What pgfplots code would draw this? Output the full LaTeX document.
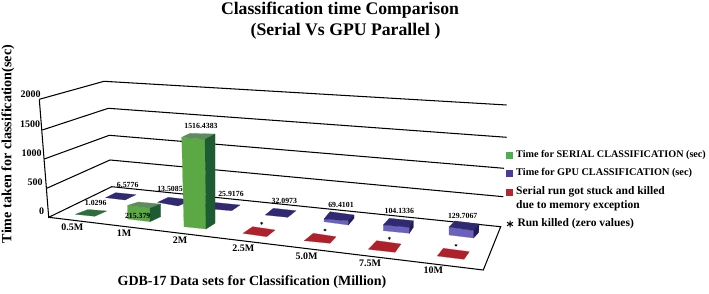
\documentclass[border=0pt]{standalone}
\usepackage{fontspec}
\setmainfont{Liberation Serif}
\usepackage{pgfplots}
\pgfplotsset{compat=1.18}
\definecolor{grid}{HTML}{2A2780}
\definecolor{gfront}{HTML}{5BA845}
\definecolor{gtop}{HTML}{5E8C5E}
\definecolor{gside}{HTML}{1F5B32}
\definecolor{gflat}{HTML}{2F6E3B}
\definecolor{bfront}{HTML}{6A62BC}
\definecolor{btop}{HTML}{2F2A72}
\definecolor{bside}{HTML}{1E1B58}
\definecolor{rflat}{HTML}{B0202B}
\definecolor{lgreen}{HTML}{4CAF50}
\definecolor{lblue}{HTML}{4B3A9C}
\definecolor{lred}{HTML}{B5272F}
\newcommand{\poly}[2]{\addplot[fill=#1,draw=#1,line width=0.2pt,forget plot] coordinates {#2} --cycle;}
\newcommand{\gline}[1]{\addplot[grid,line width=1.05pt,forget plot] coordinates {#1};}
\newcommand{\fs}[1]{\fontsize{#1}{#1}\selectfont\bfseries}
\begin{document}
\begin{tikzpicture}
\begin{axis}[at={(0,0)},anchor=south west,width=709pt,height=294pt,scale only axis,
  xmin=0,xmax=709,ymin=0,ymax=294,y dir=reverse,hide axis,clip=false,enlargelimits=false]
\path (axis cs:0,0) rectangle (axis cs:709,294);
% wall and floor lines
\gline{(39.3,99.3)(104,81.3)(506.7,105)}
\gline{(42.3,130)(108.3,108.3)(506.7,137.3)}
\gline{(44.3,159)(109.3,135.3)(504,168.3)}
\gline{(46.7,188.3)(110,160)(503.3,196.7)}
\gline{(39.3,99.3)(48.7,217.3)(111.7,186.7)(500.7,226.7)(483.3,270)(48.7,217.3)}
% GPU bars, low row
\poly{btop}{(105.7,197.7)(115.7,192.7)(136,194.7)(125,200)}
\poly{btop}{(157.7,202.3)(168.3,197.3)(192,200)(178,206)}
\poly{btop}{(200,208)(210,202)(240,205)(231.7,210.7)}
% serial 0.5M
\poly{gflat}{(75.3,214.3)(88,209.5)(106.7,211)(94.7,216.3)}
% serial 1M
\poly{gfront}{(127.7,205.3)(150,208.3)(150,221.7)(127.7,219)}
\poly{gtop}{(127.7,205.3)(138.3,202)(160.7,204)(150,208.3)}
\poly{gside}{(150,208.3)(160.7,204)(160.7,216.7)(150,221.7)}
% serial 2M
\poly{gfront}{(181.7,137.3)(205,139.3)(206,229)(184,226.7)}
\poly{gtop}{(181.7,137.3)(190,133.3)(215,134)(205,139.3)}
\poly{gside}{(205,139.3)(215,134)(215,223.3)(206,229)}
% GPU remaining
\poly{btop}{(265.3,215)(273.3,208.3)(296,210.7)(287.7,217.3)}
\poly{bfront}{(324,219)(348.3,220.7)(348.3,225)(324,221.7)}
\poly{btop}{(324,219)(330,211.7)(354,215)(348.3,220.7)}
\poly{bside}{(348.3,220.7)(354,215)(354,218.3)(348.3,225)}
\poly{bfront}{(383.3,225)(409.3,227.3)(409.3,233.3)(383.3,230.7)}
\poly{btop}{(383.3,225)(389.3,218.3)(413.3,220.7)(409.3,227.3)}
\poly{bside}{(409.3,227.3)(413.3,220.7)(413.3,227.3)(409.3,233.3)}
\poly{bfront}{(449,227)(473.5,230.5)(473.5,238)(449,235)}
\poly{btop}{(449,227)(455,221)(479,224)(473.5,230.5)}
\poly{bside}{(473.5,230.5)(479,224)(478.7,232.5)(473.5,238)}
% killed runs
\poly{rflat}{(243,233.3)(252.7,226.7)(275,230)(266.7,236.7)}
\poly{rflat}{(304.3,240.7)(313.3,233.3)(336,236.7)(330,243.3)}
\poly{rflat}{(368.3,249.3)(376.7,240.7)(401,244)(395,252.3)}
\poly{rflat}{(437.3,256)(443.3,248.3)(469.3,251.7)(464,259.3)}
\addplot[only marks,mark=asterisk,mark size=1.5pt,black,line width=0.45pt,forget plot] coordinates {(261.7,223.3)(325,230)(389.3,238.3)(456,245.3)};
% value labels
\newcommand{\vl}[3]{\node[inner sep=0pt,font=\fs{7.8}] at (axis cs:#1,#2) {#3};}
\vl{95.7}{203.3}{1.0296}
\vl{127.7}{185}{6.5776}
\vl{170}{189.3}{13.5085}
\vl{137.7}{216}{215.379}
\vl{201}{126.3}{1516.4383}
\vl{231}{194}{25.9176}
\vl{284.3}{200.7}{32.0973}
\vl{341}{205}{69.4101}
\vl{399.3}{211.3}{104.1336}
\vl{462.7}{215.7}{129.7067}
% tick labels
\newcommand{\tl}[3]{\node[inner sep=0pt,font=\fs{10}] at (axis cs:#1,#2) {#3};}
\tl{30.7}{94.3}{2000}
\tl{30}{124}{1500}
\tl{31.7}{153.3}{1000}
\tl{35}{182.7}{500}
\tl{41.7}{211.7}{0}
\tl{72.3}{227.7}{0.5M}
\tl{124}{233.3}{1M}
\tl{180}{240}{2M}
\tl{243.3}{248.3}{2.5M}
\tl{306.7}{256}{5.0M}
\tl{370}{263.3}{7.5M}
\tl{433.3}{270.7}{10M}
% titles
\node[inner sep=0pt,font=\fs{17.7}] at (axis cs:340,10.5) {Classification time Comparison};
\node[inner sep=0pt,font=\fs{17.7}] at (axis cs:345.5,31) {(Serial Vs GPU Parallel )};
\node[inner sep=0pt,rotate=90,font=\fs{14.1}] at (axis cs:8,144) {Time taken for classification(sec)};
\node[inner sep=0pt,font=\fs{14}] at (axis cs:252,282) {GDB-17 Data sets for Classification (Million)};
% legend
\poly{lgreen}{(505.7,152)(512.3,152)(512.3,158)(505.7,158)}
\poly{lblue}{(505.7,170)(512.3,170)(512.3,176)(505.7,176)}
\poly{lred}{(505.7,188.7)(512.3,188.7)(512.3,194.7)(505.7,194.7)}
\addplot[only marks,mark=asterisk,mark size=3.4pt,black,line width=1pt,forget plot] coordinates {(510,224)};
\newcommand{\lt}[4]{\node[inner sep=0pt,anchor=west,font=\fs{#3}] at (axis cs:#1,#2) {#4};}
\lt{516}{155}{10.15}{Time for SERIAL CLASSIFICATION (sec)}
\lt{516}{173}{10.3}{Time for GPU CLASSIFICATION (sec)}
\lt{516}{191.7}{11.5}{Serial run got stuck and killed}
\lt{516}{205.7}{11.5}{due to memory exception}
\lt{517.3}{224}{11.5}{Run killed (zero values)}
\end{axis}
\end{tikzpicture}
\end{document}
